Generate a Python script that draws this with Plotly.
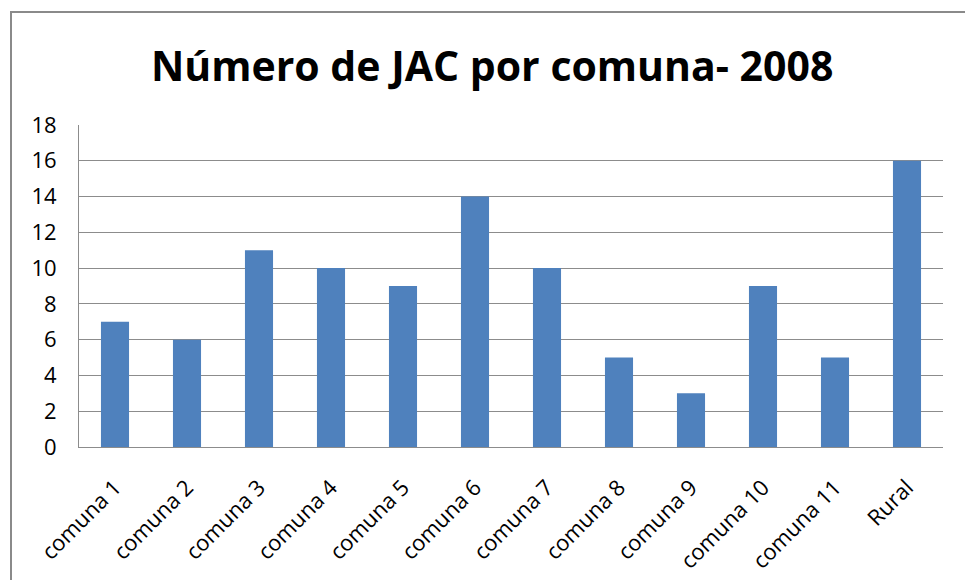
import plotly.graph_objects as go

# Juntas de Acción Comunal (JAC) por comuna, 2008
comunas = ["comuna 1", "comuna 2", "comuna 3", "comuna 4", "comuna 5", "comuna 6",
           "comuna 7", "comuna 8", "comuna 9", "comuna 10", "comuna 11", "Rural"]
num_jac = [7, 6, 11, 10, 9, 14, 10, 5, 3, 9, 5, 16]
y_ticks = [0, 2, 4, 6, 8, 10, 12, 14, 16, 18]

W, H = 965, 580
L, R, T, B = 79, 22, 125, 133
pw, ph = W - L - R, H - T - B

fig = go.Figure(go.Bar(
    x=comunas, y=num_jac,
    marker=dict(color="#4F81BD", line=dict(width=0)),
    hoverinfo="x+y",
))

grid = "#8c8c8c"
font_main = "Open Sans, Liberation Sans, sans-serif"

fig.update_layout(
    width=W, height=H,
    margin=dict(l=L, r=R, t=T, b=B),
    paper_bgcolor="white", plot_bgcolor="white",
    bargap=0.61,
    showlegend=False,
    title=dict(
        text="<b>Número de JAC por comuna- 2008</b>",
        x=0.51, xanchor="center", y=0.885, yanchor="middle",
        font=dict(family="Liberation Sans Narrow, Open Sans, sans-serif", size=41, color="black"),
    ),
    xaxis=dict(
        tickangle=-45,
        tickfont=dict(family=font_main, size=22, color="black"),
        showgrid=False,
        showline=True, linecolor=grid, linewidth=1,
        ticks="", ticklabelstandoff=18, automargin=False,
    ),
    yaxis=dict(
        range=[0, 18], tickvals=y_ticks,
        tickfont=dict(family=font_main, size=22, color="black"),
        showgrid=True, gridcolor=grid, gridwidth=1,
        showline=True, linecolor=grid, linewidth=1,
        zeroline=False, ticks="", ticklabelstandoff=17, automargin=False,
    ),
    shapes=[dict(
        type="rect", xref="paper", yref="paper",
        x0=(11 - L) / pw, x1=(W + 5 - L) / pw,
        y0=-(H + 5 - (H - B)) / ph, y1=1 + (T - 12) / ph,
        line=dict(color="#8a8a8a", width=2), fillcolor="rgba(0,0,0,0)",
        layer="below",
    )],
)

fig.write_html("out.html")
